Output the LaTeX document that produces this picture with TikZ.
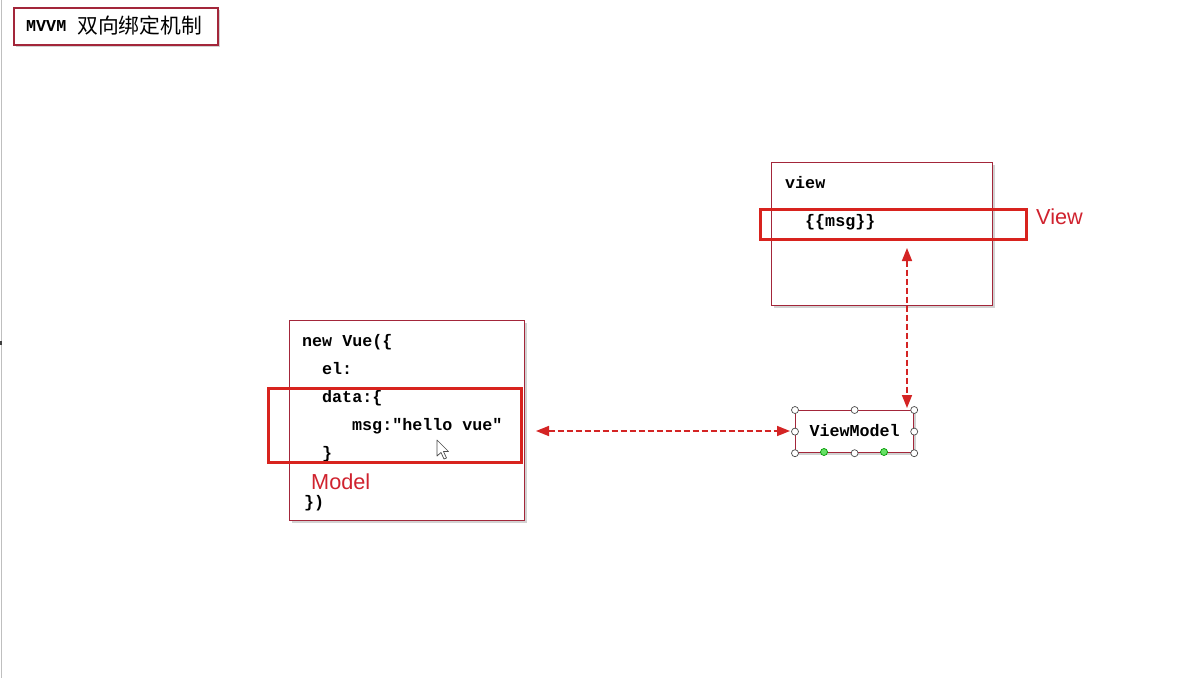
\documentclass[tikz,border=0pt]{standalone}
\usepackage{fontspec}
\setmonofont{Liberation Mono}
\newfontfamily\cjk{Noto Sans CJK SC}
\newfontfamily\arialf{Liberation Sans}
\usetikzlibrary{arrows.meta,shadows}
\definecolor{boxred}{HTML}{A3263A}
\definecolor{hired}{HTML}{D8231E}
\definecolor{arrred}{HTML}{D42424}
\definecolor{lblred}{HTML}{D0222E}
\tikzset{
  box/.style={draw=boxred, line width=1.2pt, fill=white, anchor=north west, inner sep=0pt,
    drop shadow={opacity=0.35, shadow xshift=2.5pt, shadow yshift=-2.5pt}},
  hibox/.style={draw=hired, line width=3pt, anchor=north west, inner sep=0pt},
  code/.style={anchor=west, inner sep=0pt, font=\ttfamily\bfseries\fontsize{16.7}{18}\selectfont, text height=12pt, text depth=2pt},
  lbl/.style={anchor=west, inner sep=0pt, text=lblred, font=\arialf\fontsize{21.7}{24}\selectfont},
  dasharr/.style={draw=arrred, line width=1.6pt, dash pattern=on 6pt off 3pt,
    {Triangle[length=13pt,width=10pt,fill=arrred]}-{Triangle[length=13pt,width=10pt,fill=arrred]}},
  handle/.style={circle, draw=black!70, fill=white, line width=0.7pt, inner sep=0pt, minimum size=7pt},
  ghandle/.style={circle, draw=green!60!black, fill=green!80!black!60, line width=0.7pt, inner sep=0pt, minimum size=7pt}
}
\begin{document}
\begin{tikzpicture}[x=1pt,y=-1pt]
\useasboundingbox (0,0) rectangle (1179,678);
\fill[white] (0,0) rectangle (1179,678);
% left edge
\draw[black!25, line width=1.5pt] (1.5,0) -- (1.5,678);
\fill[black!75] (0,341) rectangle (2,345);

% title
\node[box, line width=1.5pt, minimum width=204pt, minimum height=37pt] (title) at (13,7) {};
\node[anchor=west, inner sep=0pt, text height=12pt, text depth=2pt] (titletext) at (26,26)
  {\ttfamily\bfseries\fontsize{16.7}{18}\selectfont MVVM\hspace{11pt}\raisebox{-2.5pt}{\cjk\mdseries\fontsize{20.8}{22}\selectfont 双向绑定机制}};

% view box
\node[box, minimum width=221pt, minimum height=143pt] (viewbox) at (771,162) {};
\node[code] (viewt) at (785,183) {view};
\node[code] (msgt) at (805,221) {\{\{msg\}\}};
\node[hibox, minimum width=266pt, minimum height=30pt] (viewhi) at (759,208) {};
\node[lbl] (viewlbl) at (1036,217) {View};

% model box
\node[box, minimum width=235pt, minimum height=200pt] (modelbox) at (289,320) {};
\node[code] (l1) at (302,341) {new Vue(\{};
\node[code] (l2) at (322,369) {el:};
\node[code] (l3) at (322,397) {data:\{};
\node[code] (l4) at (352,425) {msg:"hello vue"};
\node[code] (l5) at (322,453) {\}};
\node[code] (l6) at (304,502) {\})};
\node[hibox, minimum width=253pt, minimum height=74pt] (modelhi) at (267,387) {};
\node[lbl] (modellbl) at (311,482) {Model};

% cursor
\draw[black!70, fill=white, line width=0.7pt, line join=round]
  (437,440) -- (437,456) -- (441,452.5) -- (444,459) -- (446.5,458) -- (443.5,451.5) -- (448.5,451.5) -- cycle;

% viewmodel box
\node[box, minimum width=118pt, minimum height=42pt] (vm) at (795,410) {};
\node[code, anchor=center] (vmt) at (vm.center) {ViewModel};
\foreach \p in {north west,north,north east,west,east,south west,south,south east}
  \node[handle] at (vm.\p) {};
\node[ghandle] at (824,452) {};
\node[ghandle] at (884,452) {};

% connectors
\coordinate (mend) at (536,431);
\coordinate (vmleft) at (790,431);
\coordinate (vend) at (907,248);
\coordinate (vmtop) at (907,408);
\draw[dasharr] (mend) -- (vmleft);
\draw[dasharr] (vend) -- (vmtop);
\end{tikzpicture}
\end{document}
